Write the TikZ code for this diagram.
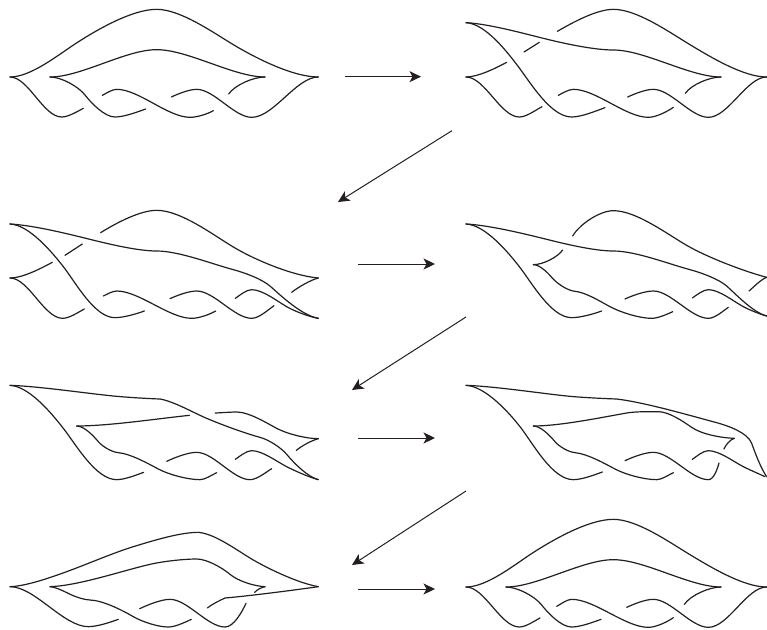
\documentclass[tikz,border=0pt]{standalone}
\usetikzlibrary{arrows.meta}
\definecolor{ink}{HTML}{231F20}
\tikzset{
  strand/.style={ink,line width=1.2pt,line cap=round,line join=round},
  move/.style={ink,line width=1pt,-{Stealth[length=11.5pt,width=11pt,inset=3pt]}},
  hv/.style={out=0,in=180},
  every to/.style={looseness=0.72},
}
\begin{document}
\begin{tikzpicture}[x=0.33333pt,y=-0.33333pt]
\useasboundingbox (0,0) rectangle (2301,1887);
% arrow anchors
\coordinate (a1s) at (1035,230); \coordinate (a1e) at (1263,230);
\coordinate (a2s) at (1356,392); \coordinate (a2e) at (1014,606);
\coordinate (a3s) at (1074,792); \coordinate (a3e) at (1305,792);
\coordinate (a4s) at (1398,951); \coordinate (a4e) at (1056,1170);
\coordinate (a5s) at (1074,1314); \coordinate (a5e) at (1305,1314);
\coordinate (a6s) at (1398,1473); \coordinate (a6e) at (1056,1695);
\coordinate (a7s) at (1074,1767); \coordinate (a7e) at (1305,1767);
\foreach \i in {1,...,7} \draw[move] (a\i s) -- (a\i e);
% panel 1
\begin{scope}
\draw[strand] (30,231) to[out=0,in=213] (228,130) to[out=33,in=180] (470,28) to[out=0,in=149] (700,134) to[out=-31,in=180] (955,231);
\draw[strand] (30,231) to[hv] (185,351) to[out=0,in=208] (250,325);
\draw[strand] (150,231) to[hv] (470,149) to[hv] (795,231);
\draw[strand] (150,231) to[out=0,in=128] (255,285) to[out=-52,in=180] (345,351) to[out=0,in=200] (437,327);
\draw[strand] (307,286) to[out=28,in=180] (350,268) to[hv] (570,352) to[out=0,in=210] (640,332);
\draw[strand] (514,291) to[out=25,in=180] (590,268) to[hv] (755,352) to[hv] (955,231);
\draw[strand] (686,282) to[out=55,in=180] (795,231);
\end{scope}
% panel 2
\begin{scope}[shift={(1350,0)}]
\draw[strand] (322,94) to[out=30,in=180] (490,28) to[out=0,in=149] (720,134) to[out=-31,in=180] (950,231);
\draw[strand] (48,68) to[out=-3,in=166] (280,115) to[out=-14,in=180] (490,150) to[hv] (813,231);
\draw[strand] (48,68) to[out=-3,in=127] (205,200) to[out=-53,in=180] (365,351) to[out=0,in=200] (465,323);
\draw[strand] (48,231) to[out=0,in=208] (170,187);
\draw[strand] (222,156) -- (268,127);
\draw[strand] (48,231) to[hv] (208,351) to[out=0,in=208] (276,320);
\draw[strand] (325,286) to[out=28,in=180] (370,268) to[hv] (595,352) to[out=0,in=215] (670,322);
\draw[strand] (533,291) to[out=25,in=180] (610,268) to[hv] (775,352) to[hv] (950,231);
\draw[strand] (706,280) to[out=55,in=180] (813,231);
\end{scope}
% panel 3
\begin{scope}[shift={(0,600)}]
\draw[strand] (302,98) to[out=32,in=180] (470,31) to[out=0,in=149] (700,141) to[out=-31,in=175] (955,234);
\draw[strand] (30,72) to[out=-3,in=166] (270,118) to[out=-14,in=180] (470,153) to[out=0,in=165] (700,209) to[out=-15,in=140] (810,258) to[out=-42,in=170] (955,355);
\draw[strand] (30,72) to[out=-3,in=128] (190,200) to[out=-52,in=180] (345,353) to[out=0,in=200] (433,333);
\draw[strand] (30,234) to[out=0,in=208] (157,187);
\draw[strand] (195,166) -- (247,132);
\draw[strand] (30,234) to[hv] (188,355) to[out=0,in=208] (253,327);
\draw[strand] (310,288) to[out=25,in=180] (350,273) to[hv] (575,355) to[out=0,in=210] (647,333);
\draw[strand] (510,296) to[out=25,in=180] (590,273) to[hv] (755,355) to[out=0,in=215] (822,317);
\draw[strand] (706,295) to[out=35,in=180] (755,269) to[out=0,in=150] (860,320) to[out=-30,in=170] (955,355);
\draw[strand] (875,277) to[out=38,in=195] (955,234);
\end{scope}
% panel 4
\begin{scope}[shift={(1350,600)}]
\draw[strand] (368,108) to[out=60,in=180] (490,32) to[out=0,in=150] (710,136) to[out=-30,in=165] (950,232);
\draw[strand] (48,72) to[out=-3,in=166] (290,118) to[out=-14,in=180] (490,153) to[out=0,in=165] (720,209) to[out=-15,in=140] (830,258) to[out=-42,in=165] (950,348);
\draw[strand] (48,72) to[out=-3,in=128] (208,200) to[out=-52,in=180] (365,353) to[out=0,in=200] (455,333);
\draw[strand] (338,150) to[out=-125,in=0] (250,194);
\draw[strand] (250,194) to[out=0,in=130] (305,232) to[out=-50,in=175] (375,274) to[out=-5,in=152] (480,320) to[out=-28,in=180] (605,355) to[out=0,in=205] (668,335);
\draw[strand] (525,297) to[out=25,in=180] (610,273) to[hv] (775,355) to[out=0,in=215] (835,322);
\draw[strand] (727,294) to[out=35,in=180] (775,269) to[out=0,in=152] (880,320) to[out=-28,in=165] (950,348);
\draw[strand] (897,273) to[out=40,in=200] (950,232);
\end{scope}
% panel 5
\begin{scope}[shift={(0,1125)}]
\draw[strand] (30,31) to[out=-2,in=174] (330,62) to[out=-6,in=178] (480,72) to[out=-10,in=157] (620,130) to[out=-23,in=165] (780,187) to[out=-15,in=130] (860,238) to[out=-50,in=165] (955,314);
\draw[strand] (30,31) to[out=-3,in=128] (190,160) to[out=-52,in=180] (350,314) to[out=0,in=200] (431,292);
\draw[strand] (230,153) to[out=0,in=186] (568,121);
\draw[strand] (230,153) to[out=0,in=130] (295,200) to[out=-50,in=175] (355,233) to[out=-5,in=152] (475,282) to[out=-28,in=180] (600,314) to[out=0,in=205] (650,293);
\draw[strand] (500,259) to[out=25,in=180] (590,232) to[hv] (750,314) to[out=0,in=212] (815,281);
\draw[strand] (706,253) to[out=35,in=180] (755,227) to[out=0,in=153] (860,275) to[out=-27,in=165] (955,314);
\draw[strand] (646,114) to[out=2,in=180] (710,111) to[out=0,in=152] (830,160) to[out=-28,in=180] (955,191);
\draw[strand] (889,226) to[out=40,in=195] (955,191);
\end{scope}
% panel 6
\begin{scope}[shift={(1350,1125)}]
\draw[strand] (48,31) to[out=-2,in=174] (350,63) to[out=-6,in=178] (500,72) to[out=-7,in=165] (800,143) to[out=-15,in=110] (905,205) to[out=-70,in=125] (950,305);
\draw[strand] (48,31) to[out=-3,in=128] (210,155) to[out=-52,in=180] (370,314) to[out=0,in=200] (457,291);
\draw[strand] (250,153) to[out=0,in=190] (530,114) to[out=10,in=180] (625,110) to[out=0,in=145] (725,157) to[out=-35,in=178] (853,190);
\draw[strand] (250,153) to[out=0,in=130] (315,200) to[out=-50,in=175] (375,233) to[out=-5,in=152] (495,282) to[out=-28,in=180] (620,314) to[out=0,in=205] (670,293);
\draw[strand] (525,257) to[out=25,in=180] (610,232) to[hv] (775,314) to[out=0,in=-105] (807,264);
\draw[strand] (727,253) to[out=35,in=180] (775,227) to[out=0,in=153] (880,275) to[out=-27,in=155] (945,305);
\draw[strand] (822,222) to[out=70,in=195] (853,190);
\end{scope}
% panel 7
\begin{scope}[shift={(0,1575)}]
\draw[strand] (30,185) to[out=2,in=200] (200,140) to[out=20,in=197] (400,65) to[out=17,in=180] (595,22) to[out=-5,in=150] (760,105) to[out=-30,in=170] (955,185);
\draw[strand] (30,185) to[hv] (265,305) to[out=0,in=200] (355,283);
\draw[strand] (150,185) to[out=2,in=193] (450,118) to[out=13,in=180] (590,102) to[out=0,in=140] (690,148) to[out=-40,in=178] (795,185);
\draw[strand] (150,185) to[out=-5,in=155] (215,210) to[out=-25,in=178] (270,225) to[out=-2,in=150] (400,275) to[out=-30,in=180] (505,306) to[out=0,in=205] (574,283);
\draw[strand] (419,251) to[out=25,in=180] (510,223) to[hv] (675,306) to[out=0,in=-115] (738,235);
\draw[strand] (622,249) to[out=40,in=205] (675,219) to[out=5,in=188] (955,185);
\draw[strand] (764,202) to[out=50,in=190] (795,185);
\end{scope}
% panel 8
\begin{scope}[shift={(1350,1530)}]
\draw[strand] (48,231) to[out=0,in=213] (246,130) to[out=33,in=180] (490,28) to[out=0,in=149] (720,134) to[out=-31,in=180] (950,231);
\draw[strand] (48,231) to[hv] (208,351) to[out=0,in=208] (270,324);
\draw[strand] (168,231) to[hv] (490,149) to[hv] (813,231);
\draw[strand] (168,231) to[out=0,in=128] (275,285) to[out=-52,in=180] (365,351) to[out=0,in=200] (453,328);
\draw[strand] (320,289) to[out=28,in=180] (365,268) to[hv] (595,352) to[out=0,in=215] (670,323);
\draw[strand] (530,292) to[out=25,in=180] (610,268) to[hv] (775,352) to[hv] (950,231);
\draw[strand] (703,283) to[out=55,in=180] (813,231);
\end{scope}
\end{tikzpicture}
\end{document}
